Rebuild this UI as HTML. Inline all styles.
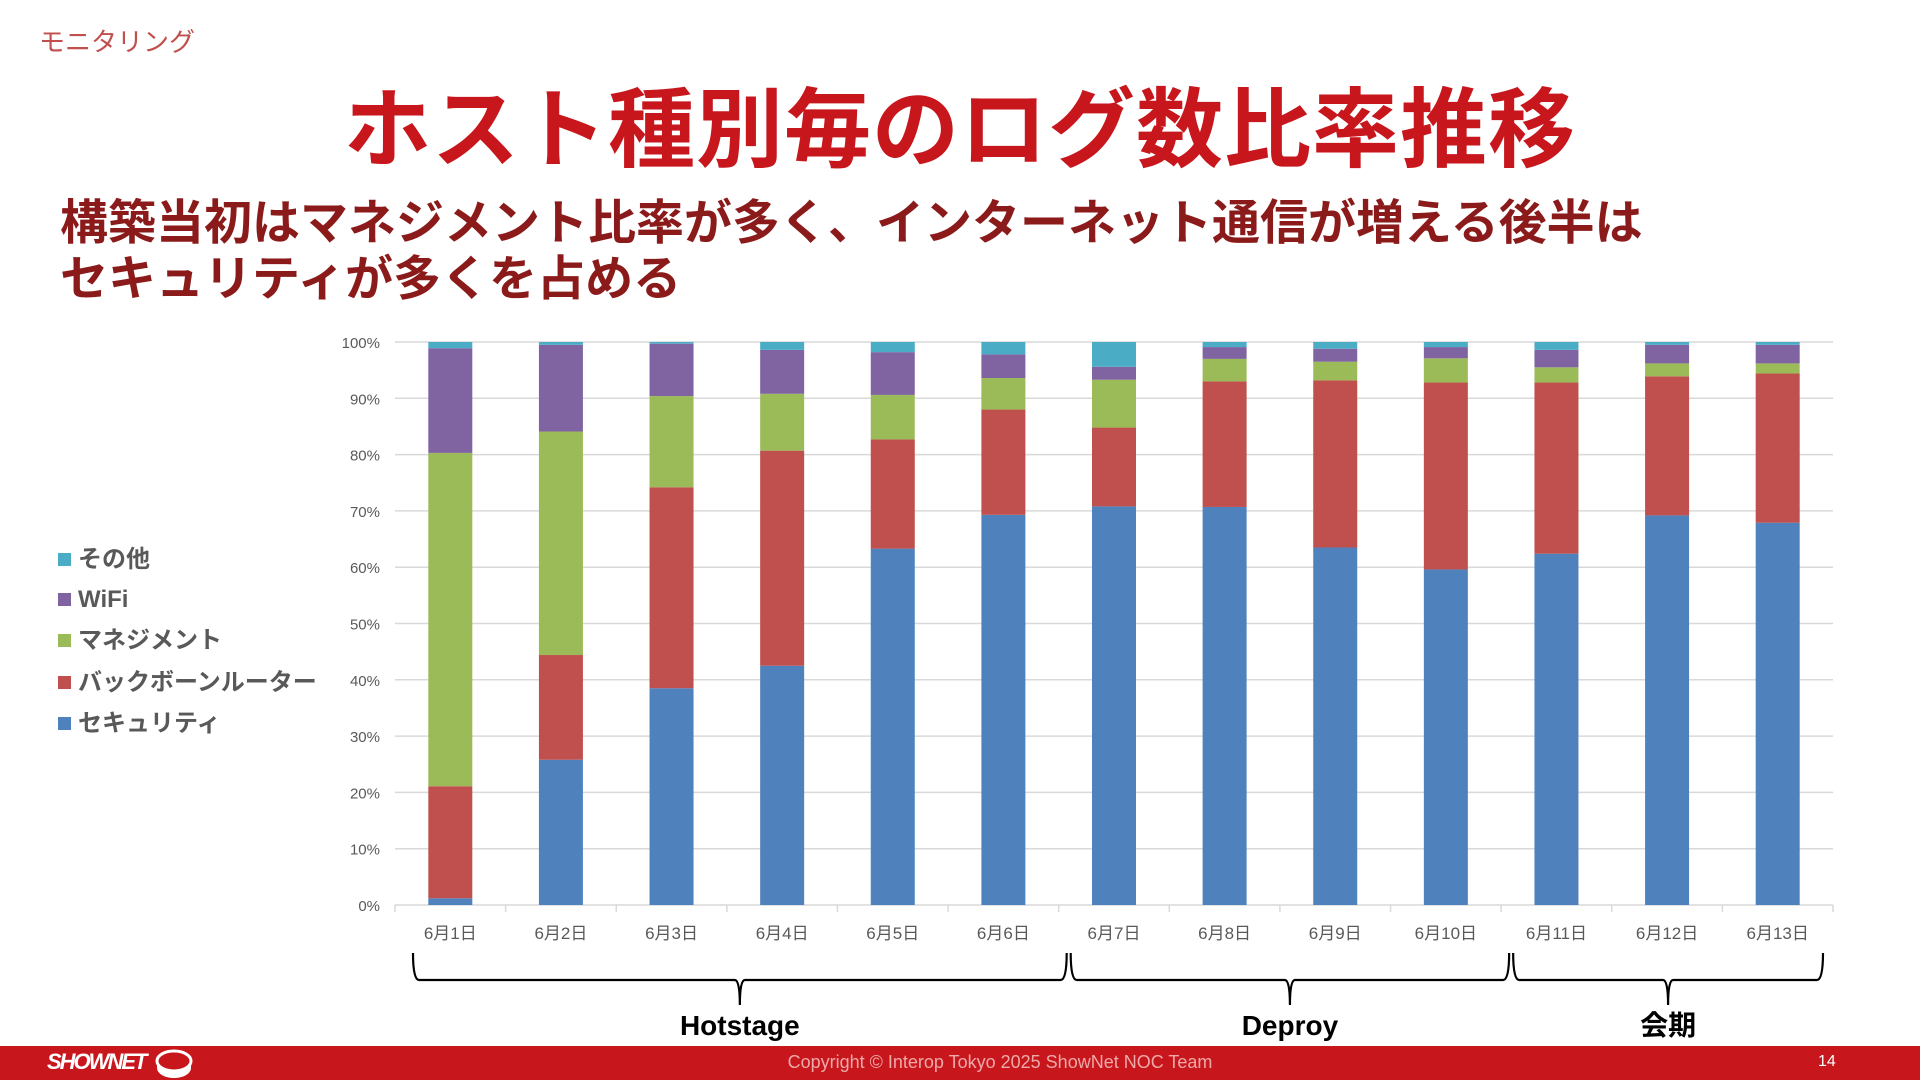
<!DOCTYPE html>
<html lang="ja"><head><meta charset="utf-8">
<style>
html,body{margin:0;padding:0}
body{width:1920px;height:1080px;position:relative;overflow:hidden;background:#fff;font-family:"Liberation Sans","Noto Sans CJK JP",sans-serif}
.abs{position:absolute;white-space:nowrap}
#section{left:39px;top:22px;font-size:26px;color:#c0504d}
#title{left:0;width:1920px;text-align:center;top:60px;font-size:87px;font-weight:bold;color:#c8161d;letter-spacing:1px;padding-left:0px}
#sub{left:60px;top:196px;font-size:48px;font-weight:bold;color:#8b1a1a;line-height:56px}
.leg{position:absolute;left:58px;font-size:24px;font-weight:bold;color:#595959;height:30px;line-height:30px}
.leg i{display:inline-block;width:13px;height:13px;margin-right:7px;vertical-align:1px}
#footer{left:0;top:1046px;width:1920px;height:34px;background:#c8161d}
#copy{left:0;width:1920px;text-align:center;top:1052px;font-size:18px;color:#eea9a9;padding-left:40px}
#page{left:1818px;top:1053px;font-size:16px;color:#fff}
#logo{left:47px;top:1049px;font-size:22px;font-weight:bold;color:#fff;letter-spacing:-2px;font-style:italic}
</style></head><body>
<div class="abs" id="section">モニタリング</div>
<div class="abs" id="title">ホスト種別毎のログ数比率推移</div>
<div class="abs" id="sub">構築当初はマネジメント比率が多く、インターネット通信が増える後半は<br>セキュリティが多くを占める</div>

<div class="leg" style="top:545px"><i style="background:#4bacc6"></i>その他</div>
<div class="leg" style="top:585px"><i style="background:#8064a2"></i>WiFi</div>
<div class="leg" style="top:626px"><i style="background:#9bbb59"></i>マネジメント</div>
<div class="leg" style="top:668px"><i style="background:#c0504d"></i>バックボーンルーター</div>
<div class="leg" style="top:709px"><i style="background:#4f81bd"></i>セキュリティ</div>

<svg id="chart" class="abs" style="left:0;top:0" width="1920" height="1080"></svg>

<div class="abs" id="footer"></div>
<div class="abs" id="logo">SHOWNET</div>
<svg class="abs" style="left:154px;top:1048px" width="42" height="32"><ellipse cx="20" cy="13" rx="17" ry="10" fill="#c8161d" stroke="#fff" stroke-width="3"/><path d="M3 13 v7 a17 10 0 0 0 34 0 v-7 a17 10 0 0 1 -34 0z" fill="#fff"/></svg>
<div class="abs" id="copy">Copyright © Interop Tokyo 2025 ShowNet NOC Team</div>
<div class="abs" id="page">14</div>

<script>
const categories=["6月1日","6月2日","6月3日","6月4日","6月5日","6月6日","6月7日","6月8日","6月9日","6月10日","6月11日","6月12日","6月13日"];
const security=[1.2,25.8,38.5,42.5,63.3,69.3,70.8,70.7,63.5,59.6,62.4,69.2,67.9];
const backbone=[19.9,18.6,35.7,38.2,19.4,18.7,14.0,22.3,29.7,33.2,30.4,24.7,26.5];
const management=[59.2,39.7,16.2,10.1,7.9,5.6,8.5,4.0,3.3,4.3,2.7,2.3,1.8];
const wifi=[18.6,15.4,9.3,7.8,7.6,4.2,2.3,2.1,2.3,2.0,3.1,3.3,3.3];
const other=[1.1,0.5,0.3,1.4,1.8,2.2,4.4,0.9,1.2,0.9,1.4,0.5,0.5];
const yTicks=[0,10,20,30,40,50,60,70,80,90,100];
const groups=[{label:"Hotstage",from:0,to:5},{label:"Deproy",from:6,to:9},{label:"会期",from:10,to:12}];

const svg=document.getElementById('chart');
const NS='http://www.w3.org/2000/svg';
const L=395,R=1833,T=342,B=905;
const bw=(R-L)/categories.length;
const y=v=>B-(v/100)*(B-T);
const x=i=>L+bw*i+bw/2;
function mk(tag,at){const e=document.createElementNS(NS,tag);for(const k in at)e.setAttribute(k,at[k]);svg.appendChild(e);return e;}
yTicks.forEach(t=>{
  const g=mk('line',{x1:L,x2:R,y1:y(t),y2:y(t),stroke:'#d9d9d9','stroke-width':1.5});
  
  
  const tx=mk('text',{x:380,y:y(t)+6,'text-anchor':'end','font-size':15,fill:'#595959','font-family':'Liberation Sans, sans-serif'});
  tx.textContent=t+'%';
  
  
});
for(let i=0;i<=categories.length;i++){
  const tk=mk('line',{x1:L+bw*i,x2:L+bw*i,y1:B,y2:B+7,stroke:'#d9d9d9','stroke-width':1.5});
  
  
}
const series=[[security,'#4f81bd','security'],[backbone,'#c0504d','backbone'],[management,'#9bbb59','management'],[wifi,'#8064a2','wifi'],[other,'#4bacc6','other']];
const bW=44;
categories.forEach((c,i)=>{
  let acc=0;
  series.forEach(([arr,col,nm])=>{
    const v=arr[i];
    const r=mk('rect',{x:x(i)-bW/2,y:y(acc+v),width:bW,height:y(acc)-y(acc+v),fill:col});
    
    
    acc+=v;
  });
  const tx=mk('text',{x:x(i),y:939,'text-anchor':'middle','font-size':17,fill:'#595959','font-family':'Liberation Sans, Noto Sans CJK JP, sans-serif'});
  tx.textContent=c;
  
  
});
groups.forEach((g,gi)=>{
  const x0=L+bw*g.from+(g.from===0?18:12);
  const x1=(g.to===categories.length-1)?R-10:L+bw*(g.to+1)+8;
  const xm=(x0+x1)/2;
  const d=`M${x0} 953 Q${x0} 980 ${x0+6} 980 L${xm-5} 980 Q${xm} 980 ${xm} 1005 Q${xm} 980 ${xm+5} 980 L${x1-6} 980 Q${x1} 980 ${x1} 953`;
  const p=mk('path',{d:d,fill:'none',stroke:'#000','stroke-width':2.2});
  
  
  const t=mk('text',{x:xm,y:1035,'text-anchor':'middle','font-size':28,'font-weight':'bold',fill:'#000','font-family':'Liberation Sans, Noto Sans CJK JP, sans-serif'});
  t.textContent=g.label;
  
  
});
</script>
</body></html>
